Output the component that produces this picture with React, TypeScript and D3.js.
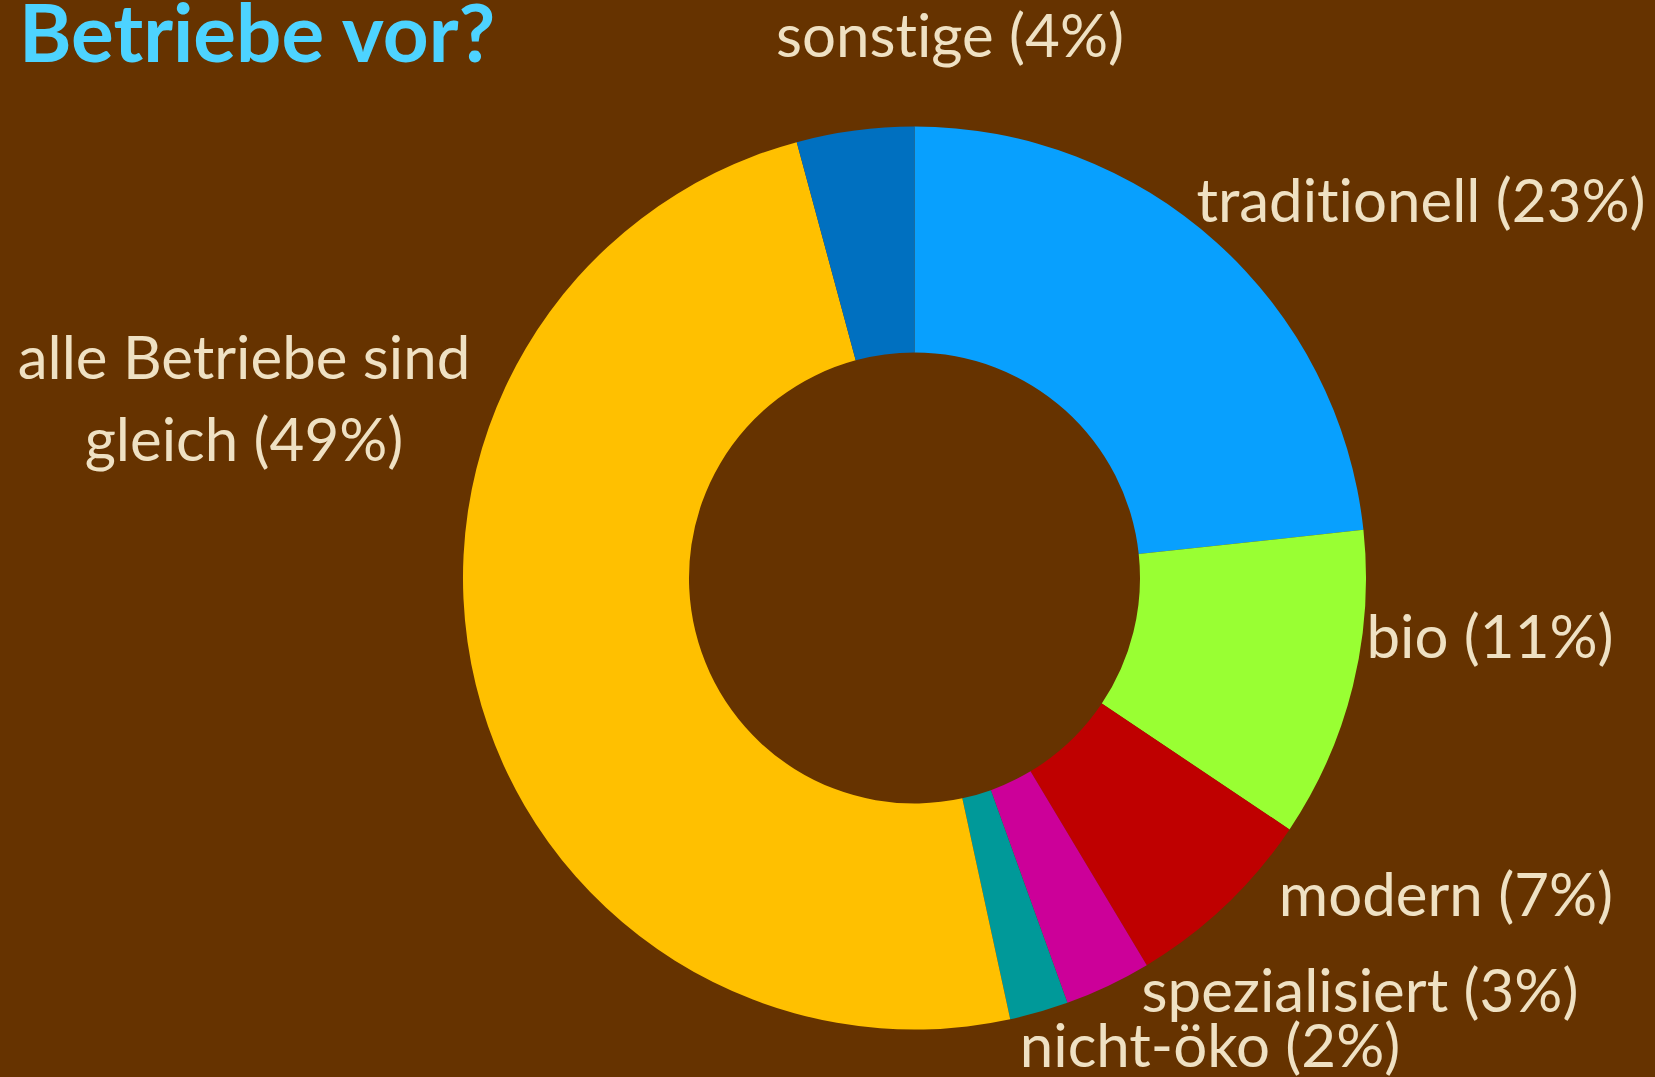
import React from "react";
import * as d3 from "d3";

const categories = [
  "traditionell",
  "bio",
  "modern",
  "spezialisiert",
  "nicht-öko",
  "alle Betriebe sind gleich",
  "sonstige",
];
const values = [23.3, 11.1, 7.0, 3.1, 2.1, 49.2, 4.2];
const percentLabels = ["23%", "11%", "7%", "3%", "2%", "49%", "4%"];
const labelLines = [
  ["traditionell (23%)"],
  ["bio (11%)"],
  ["modern (7%)"],
  ["spezialisiert (3%)"],
  ["nicht-öko (2%)"],
  ["alle Betriebe sind", "gleich (49%)"],
  ["sonstige (4%)"],
];
const title = "Betriebe vor?";

// layout / style (kept separate from data)
const W = 1655;
const H = 1077;
const colors = ["#08A0FE", "#99FF33", "#BF0000", "#CC0099", "#009999", "#FFC000", "#0070C0"];
const labelPos = [
  { x: 1421, y: 222 },
  { x: 1490, y: 658 },
  { x: 1446, y: 916 },
  { x: 1360, y: 1012 },
  { x: 1210, y: 1067 },
  { x: 244, y: 379 },
  { x: 950, y: 57 },
];
const lineGap = 82;
const cx = 914.5;
const cy = 578;
const outerR = 451.5;
const innerR = 225.5;
const bg = "#663300";
const textColor = "#EFE1C3";
const titleColor = "#4DD3FF";
const font = "Lato, 'Open Sans', sans-serif";
const noLig = { fontVariantLigatures: "none", fontFeatureSettings: "'liga' 0" } as any;

export default function App() {
  const data = categories.map((c, i) => ({ name: c, value: values[i], pct: percentLabels[i] }));
  const pie = d3
    .pie<any>()
    .sort(null)
    .value((d: any) => d.value)
    .startAngle(0)
    .endAngle(2 * Math.PI);
  const arcs = pie(data);
  const arc = d3.arc<any>().innerRadius(innerR).outerRadius(outerR);

  return (
    <svg
      width={W}
      height={H}
      viewBox={`0 0 ${W} ${H}`}
      style={{ position: "absolute", left: 0, top: 0, display: "block" }}
    >
      <rect x={0} y={0} width={W} height={H} fill={bg} />
      <text
        x={19}
        y={62}
        fill={titleColor}
        fontFamily={font}
        fontWeight={700}
        fontSize={80}
        style={noLig}
      >
        {title}
      </text>
      <g transform={`translate(${cx},${cy})`}>
        {arcs.map((a, i) => (
          <path key={categories[i]} d={arc(a) as string} fill={colors[i]} />
        ))}
      </g>
      {labelLines.map((lines, i) => (
        <text
          key={"l" + i}
          x={labelPos[i].x}
          y={labelPos[i].y}
          fill={textColor}
          fontFamily={font}
          fontSize={60}
          textAnchor="middle"
          style={noLig}
        >
          {lines.map((ln, j) => (
            <tspan key={j} x={labelPos[i].x} y={labelPos[i].y + j * lineGap}>
              {ln}
            </tspan>
          ))}
        </text>
      ))}
    </svg>
  );
}
